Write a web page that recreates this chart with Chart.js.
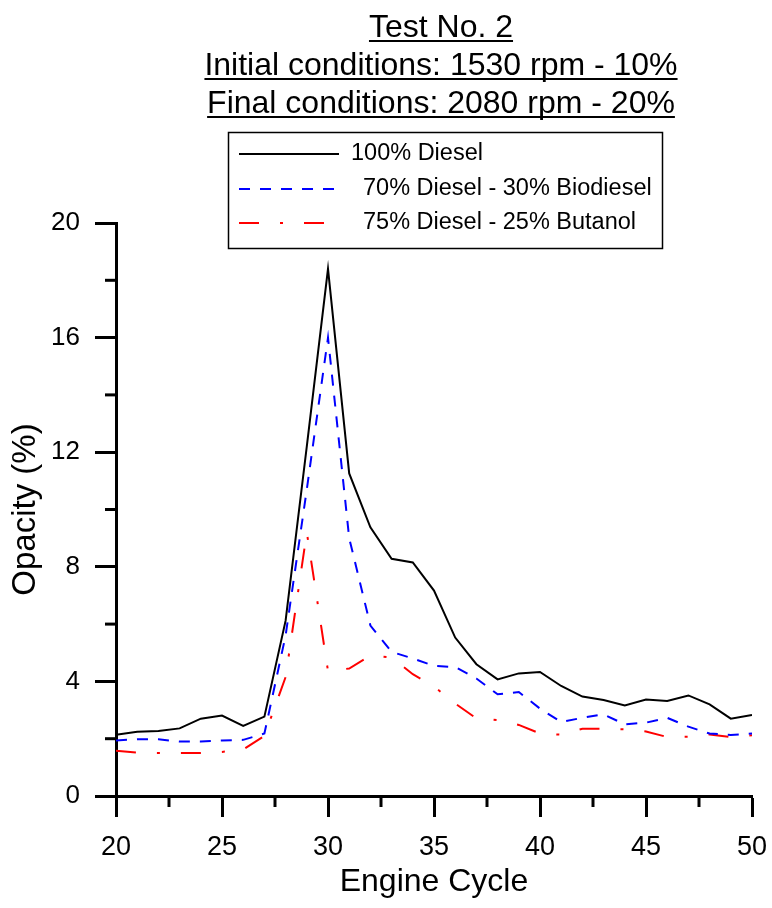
<!DOCTYPE html>
<html>
<head>
<meta charset="utf-8">
<title>Test No. 2 - Opacity</title>
<script src="https://cdn.jsdelivr.net/npm/chart.js@4.4.0/dist/chart.umd.min.js"></script>
<style>
  body { margin: 0; background: #fff; }
  canvas { display: block; }
</style>
</head>
<body>
<canvas id="grafico" width="772" height="908"></canvas>
<script>
const cycles = [20, 21, 22, 23, 24, 25, 26, 27, 28, 29, 30, 31, 32, 33, 34, 35, 36, 37, 38, 39, 40, 41, 42, 43, 44, 45, 46, 47, 48, 49, 50]
const diesel = [2.14, 2.24, 2.27, 2.36, 2.70, 2.81, 2.45, 2.77, 6.12, 12.2, 18.4, 11.26, 9.38, 8.28, 8.15, 7.17, 5.53, 4.60, 4.07, 4.28, 4.33, 3.84, 3.47, 3.35, 3.16, 3.37, 3.32, 3.51, 3.20, 2.70, 2.83]
const biodiesel = [1.94, 1.98, 1.98, 1.90, 1.90, 1.94, 1.96, 2.18, 5.6, 10.7, 16.0, 9.0, 5.95, 5.03, 4.8, 4.54, 4.5, 4.1, 3.55, 3.63, 3.05, 2.58, 2.73, 2.85, 2.50, 2.56, 2.73, 2.42, 2.18, 2.13, 2.18]
const butanol = [1.58, 1.51, 1.50, 1.50, 1.50, 1.54, 1.62, 2.10, 4.15, 9.2, 4.36, 4.45, 4.9, 4.84, 4.25, 3.82, 3.23, 2.71, 2.65, 2.48, 2.18, 2.14, 2.35, 2.35, 2.33, 2.25, 2.06, 2.07, 2.15, 2.06, 2.12]
const seriesNames = ["100% Diesel", "70% Diesel - 30% Biodiesel", "75% Diesel - 25% Butanol"]
const titleLines = ["Test No. 2", "Initial conditions: 1530 rpm - 10%", "Final conditions: 2080 rpm - 20%"]
const xTickLabels = [20, 25, 30, 35, 40, 45, 50]
const yTickLabels = [0, 4, 8, 12, 16, 20]

const FONT = '"Liberation Sans", Arial, sans-serif'
Chart.defaults.font.family = FONT
Chart.defaults.color = "#000"

const toPoints = (vals) => cycles.map((c, i) => ({ x: c, y: vals[i] }))

// title, boxed legend and the short minor ticks
const decor = {
  id: "decor",
  afterDraw(chart) {
    const ctx = chart.ctx
    ctx.save()

    // underlined title
    ctx.fillStyle = "#000"
    ctx.strokeStyle = "#000"
    ctx.font = "32px " + FONT
    ctx.textAlign = "center"
    ctx.textBaseline = "alphabetic"
    const baselines = [37, 75, 113]
    titleLines.forEach((t, i) => {
      ctx.fillText(t, 441, baselines[i])
      const w = ctx.measureText(t).width
      ctx.lineWidth = 2
      ctx.beginPath()
      ctx.moveTo(441 - w / 2, baselines[i] + 4)
      ctx.lineTo(441 + w / 2, baselines[i] + 4)
      ctx.stroke()
    })

    // legend box
    ctx.lineWidth = 1.5
    ctx.strokeRect(228.5, 132.5, 434, 116)
    const rows = [154, 189, 223]
    const textX = [351, 363, 363]
    const lineEnd = [339, 342, 330]
    chart.data.datasets.forEach((ds, i) => {
      ctx.strokeStyle = ds.borderColor
      ctx.lineWidth = 2
      ctx.setLineDash(ds.borderDash || [])
      ctx.beginPath()
      ctx.moveTo(239, rows[i])
      ctx.lineTo(lineEnd[i], rows[i])
      ctx.stroke()
      ctx.setLineDash([])
      ctx.fillStyle = "#000"
      ctx.font = "23.5px " + FONT
      ctx.textAlign = "left"
      ctx.textBaseline = "middle"
      ctx.fillText(seriesNames[i], textX[i], rows[i])
    })

    // minor ticks
    const xs = chart.scales.x
    const ys = chart.scales.y
    ctx.strokeStyle = "#000"
    ctx.lineWidth = 3
    xs.ticks.forEach((t) => {
      if (xTickLabels.includes(t.value)) return
      const px = xs.getPixelForValue(t.value)
      ctx.beginPath()
      ctx.moveTo(px, xs.top)
      ctx.lineTo(px, xs.top + 11)
      ctx.stroke()
    })
    ys.ticks.forEach((t) => {
      if (yTickLabels.includes(t.value)) return
      const py = ys.getPixelForValue(t.value)
      ctx.beginPath()
      ctx.moveTo(ys.right - 11, py)
      ctx.lineTo(ys.right, py)
      ctx.stroke()
    })
    ctx.restore()
  },
}

const graph = document.querySelector("#grafico")
const data = {
  datasets: [
    {
      label: seriesNames[0],
      data: toPoints(diesel),
      borderColor: "#000000",
      borderWidth: 2,
    },
    {
      label: seriesNames[1],
      data: toPoints(biodiesel),
      borderColor: "#0000ff",
      borderWidth: 2,
      borderDash: [11, 10],
    },
    {
      label: seriesNames[2],
      data: toPoints(butanol),
      borderColor: "#ff0000",
      borderWidth: 2,
      borderDash: [20, 21, 3, 21],
    },
  ],
}

const config = {
  type: "line",
  data: data,
  options: {
    responsive: false,
    animation: false,
    elements: {
      point: { radius: 0 },
      line: { tension: 0 },
    },
    layout: {
      padding: { top: 223, right: 20, bottom: 0, left: 0 },
    },
    plugins: {
      legend: { display: false },
      title: { display: false },
      tooltip: { enabled: false },
    },
    scales: {
      x: {
        type: "linear",
        min: 20,
        max: 50,
        afterFit: (scale) => {
          scale.height = 112
          scale.paddingLeft = 0
          scale.paddingRight = 0
        },
        border: { display: true, color: "#000", width: 3 },
        grid: {
          drawOnChartArea: false,
          tickLength: 21,
          tickWidth: 3,
          tickColor: (c) => (c.tick && xTickLabels.includes(c.tick.value) ? "#000" : "rgba(0,0,0,0)"),
        },
        ticks: {
          stepSize: 2.5,
          padding: 14,
          maxRotation: 0,
          autoSkip: false,
          font: { size: 27 },
          callback: (v) => (xTickLabels.includes(v) ? v : ""),
        },
        title: {
          display: true,
          text: "Engine Cycle",
          font: { size: 32 },
          padding: { top: 0, bottom: 7 },
        },
      },
      y: {
        min: 0,
        max: 20,
        afterFit: (scale) => {
          scale.width = 116
          scale.paddingTop = 0
          scale.paddingBottom = 0
        },
        border: { display: true, color: "#000", width: 3 },
        grid: {
          drawOnChartArea: false,
          tickLength: 21,
          tickWidth: 3,
          tickColor: (c) => (c.tick && yTickLabels.includes(c.tick.value) ? "#000" : "rgba(0,0,0,0)"),
        },
        ticks: {
          stepSize: 2,
          padding: 15,
          autoSkip: false,
          font: { size: 26 },
          callback: (v) => (yTickLabels.includes(v) ? v : ""),
        },
        title: {
          display: true,
          text: "Opacity (%)",
          font: { size: 33 },
          padding: { top: 6, bottom: 0 },
        },
      },
    },
  },
  plugins: [decor],
}

new Chart(graph, config)
</script>
</body>
</html>
